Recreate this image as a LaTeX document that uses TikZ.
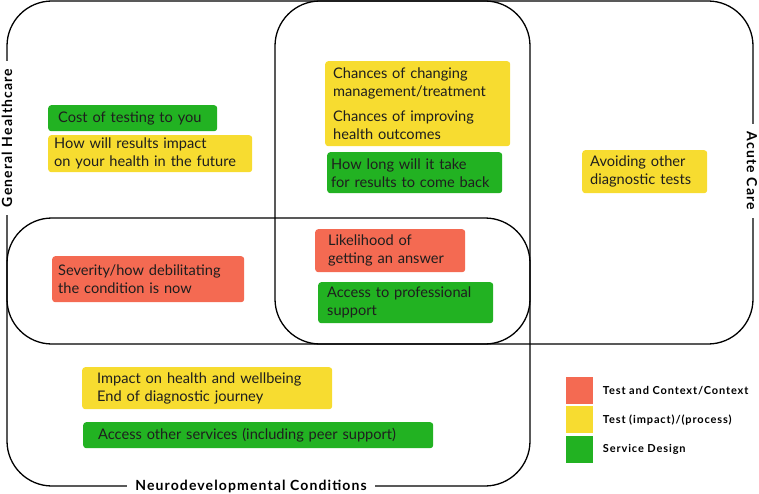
\documentclass[tikz,border=0pt]{standalone}
\usepackage{fontspec}
\setmainfont{Lato}
\newfontfamily\setfont[LetterSpace=8]{Lato}
\usetikzlibrary{positioning}
\definecolor{tagred}{RGB}{244,106,82}
\definecolor{tagyellow}{RGB}{247,220,48}
\definecolor{taggreen}{RGB}{34,178,34}
\definecolor{tagtext}{RGB}{30,30,30}

\begin{document}
\begin{tikzpicture}[x=1pt, y=-1pt,
  setbox/.style={draw=black, line width=1.3pt, rounded corners=45pt},
  setlabel/.style={fill=white, font=\setfont\fontsize{14}{15}\selectfont\bfseries, inner xsep=8pt, inner ysep=2pt},
  tagbox/.style={anchor=north west, rounded corners=3pt, align=left, inner ysep=0pt,
               text=tagtext, font=\fontsize{14.6}{18}\selectfont},
  keybox/.style={anchor=north west, minimum width=27pt, minimum height=27pt, inner sep=0pt},
  keytext/.style={font=\setfont\fontsize{11}{13}\selectfont\bfseries}]
\useasboundingbox (0,0) rectangle (759,494);
\draw[setbox] (7,1) rectangle (530,344);
\draw[setbox] (275,1) rectangle (753,344);
\draw[setbox] (7,218) rectangle (530,486);
\node[setlabel, rotate=90] (genhealth) at (7,138) {General Healthcare};
\node[setlabel, rotate=-90] (acute) at (752,171) {Acute Care};
\node[setlabel] (neurodev) at (251,486) {Neurodevelopmental Conditions};

\node[tagbox, fill=taggreen, text width=149pt, inner xsep=10pt, minimum height=26pt] (cost) at (48,105) {Cost of testing to you};
\node[tagbox, fill=tagyellow, text width=192pt, inner xsep=6pt, minimum height=37pt] (future) at (48,135) {How will results impact\\on your health in the future};
\node[tagbox, fill=tagyellow, text width=169pt, inner xsep=8pt, minimum height=85pt] (chances) at (325,61) {Chances of changing\\management/treatment\\[7pt]Chances of improving\\health outcomes};
\node[tagbox, fill=taggreen, text width=167pt, inner xsep=4pt, minimum height=41pt] (howlong) at (327,152) {How long will it take\\for results to come back};
\node[tagbox, fill=tagyellow, text width=109pt, inner xsep=8pt, minimum height=43pt] (avoiding) at (582,150) {Avoiding other\\diagnostic tests};
\node[tagbox, fill=tagred, text width=180pt, inner xsep=6pt, minimum height=46pt] (severity) at (52,256) {Severity/how debilitating\\the condition is now};
\node[tagbox, fill=tagred, text width=124pt, inner xsep=13pt, minimum height=43pt] (likelihood) at (315,229) {Likelihood of\\getting an answer};
\node[tagbox, fill=taggreen, text width=157pt, inner xsep=9pt, minimum height=41pt] (profsupport) at (318,282) {Access to professional\\support};
\node[tagbox, fill=tagyellow, text width=220pt, inner xsep=15pt, minimum height=42pt] (wellbeing) at (82,367) {Impact on health and wellbeing\\End of diagnostic journey};
\node[tagbox, fill=taggreen, text width=320pt, inner xsep=15pt, minimum height=26pt] (services) at (83,422) {Access other services (including peer support)};

\node[keybox, fill=tagred] (keyred) at (566,377) {};
\node[keybox, fill=tagyellow] (keyyellow) at (566,406) {};
\node[keybox, fill=taggreen] (keygreen) at (566,436) {};
\node[keytext, right=6pt of keyred] (keyredtext) {Test and Context/Context};
\node[keytext, right=6pt of keyyellow] (keyyellowtext) {Test (impact)/(process)};
\node[keytext, right=6pt of keygreen] (keygreentext) {Service Design};
\end{tikzpicture}
\end{document}
